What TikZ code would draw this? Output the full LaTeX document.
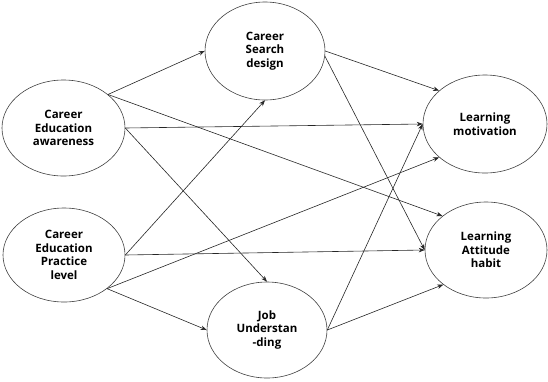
\documentclass[tikz,border=0pt]{standalone}
\usepackage{fontspec}
\setmainfont{Open Sans}
\usetikzlibrary{arrows.meta,shapes.geometric}

\begin{document}
\begin{tikzpicture}[x=1pt,y=-1pt,line width=0.6pt,>={Stealth[length=6pt,width=4.5pt]}]
\tikzset{construct/.style={ellipse,draw=black!75,line width=0.6pt,inner sep=0pt,
    align=center,font=\bfseries\fontsize{11.5}{13.5}\selectfont},
  link/.style={->,draw=black!85}}
\useasboundingbox (0,0) rectangle (548,381);
% ---------- constructs ----------
\node[construct,minimum width=123pt,minimum height=96pt] (aware) at (63.5,128) {Career\\Education\\awareness};
\node[construct,minimum width=122pt,minimum height=94pt] (practice) at (64,255) {Career\\Education\\Practice\\level};
\node[construct,minimum width=120pt,minimum height=98pt] (search) at (265,51) {Career\\Search\\design};
\node[construct,minimum width=120pt,minimum height=96pt] (job) at (267,330) {Job\\Understan\\-ding};
\node[construct,minimum width=124pt,minimum height=98pt] (motiv) at (485,124) {Learning\\motivation};
\node[construct,minimum width=122pt,minimum height=96pt] (habit) at (486,250) {Learning\\Attitude\\habit};
% ---------- paths from awareness ----------
\draw[link] (aware.37) -- (search.west);
\draw[link] (aware.east) -- (motiv.west);
\draw[link] (aware.37) -- (habit.142);
\draw[link] (aware.east) -- (job.north);
% ---------- paths from practice level ----------
\draw[link] (practice.east) -- (search.south);
\draw[link] (practice.east) -- (habit.west);
\draw[link] (practice.-38) -- (motiv.-144);
\draw[link] (practice.-38) -- (job.west);
% ---------- mediators to outcomes ----------
\draw[link] (search.east) -- (motiv.144);
\draw[link] (search.-5) -- (habit.west);
\draw[link] (job.east) -- (motiv.west);
\draw[link] (job.east) -- (habit.-141);
\end{tikzpicture}
\end{document}
